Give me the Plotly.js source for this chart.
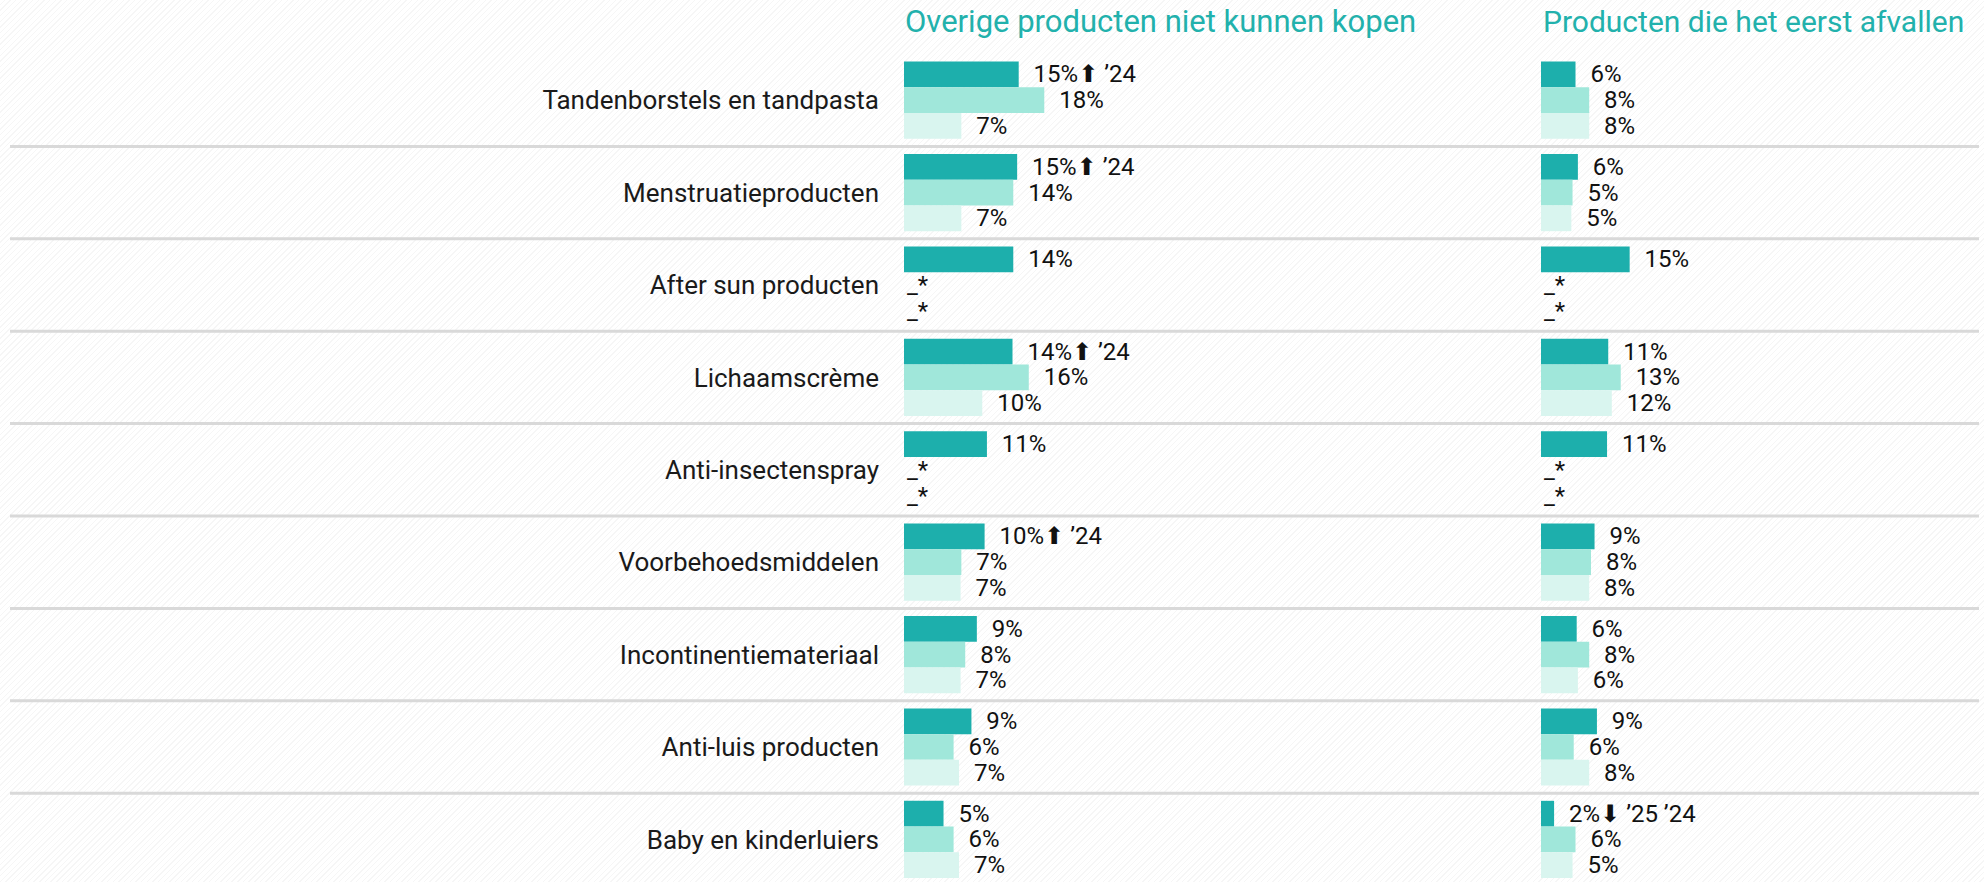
<!DOCTYPE html>
<html>
<head>
<meta charset="utf-8">
<script src="https://cdn.plot.ly/plotly-3.0.1.min.js"></script>
<style>
  html, body { margin: 0; padding: 0; }
  body {
    width: 1984px; height: 882px; overflow: hidden;
    background: repeating-linear-gradient(135deg, #ffffff 0px, #ffffff 3px, #f6f6f6 3px, #f6f6f6 4px);
  }
  #chart { width: 1984px; height: 882px; }
</style>
</head>
<body>
<div id="chart"></div>
<script>
// ---- data ----
const categories = [
  "Tandenborstels en tandpasta",
  "Menstruatieproducten",
  "After sun producten",
  "Lichaamscrème",
  "Anti-insectenspray",
  "Voorbehoedsmiddelen",
  "Incontinentiemateriaal",
  "Anti-luis producten",
  "Baby en kinderluiers"
];
const seriesNames = ["Meting 1", "Meting 2", "Meting 3"];

// Panel 1: Overige producten niet kunnen kopen (%)
const leftTitle = "Overige producten niet kunnen kopen";
const left1 = [14.8, 14.6, 14.1, 14.0, 10.7, 10.4, 9.4, 8.7, 5.1];
const left2 = [18.1, 14.1, null, 16.1, null, 7.4, 7.9, 6.4, 6.4];
const left3 = [7.4, 7.4, null, 10.1, null, 7.3, 7.3, 7.1, 7.1];
// significance notes on the first series: [arrow, years]
const leftNotes1 = [["up", "’24"], ["up", "’24"], null, ["up", "’24"], null, ["up", "’24"], null, null, null];

// Panel 2: Producten die het eerst afvallen (%)
const rightTitle = "Producten die het eerst afvallen";
const right1 = [5.8, 6.2, 14.9, 11.3, 11.1, 9.0, 6.0, 9.4, 2.2];
const right2 = [8.1, 5.3, null, 13.4, null, 8.4, 8.1, 5.5, 5.8];
const right3 = [8.1, 5.1, null, 11.9, null, 8.1, 6.2, 8.1, 5.3];
const rightNotes1 = [null, null, null, null, null, null, null, null, ["down", "’25 ’24"]];

const colors = ["#1DAFAC", "#A0E7DA", "#D9F5EF"];

// ---- build ----
const yIdx = categories.map((c, i) => i);
const NB = "\u00a0\u00a0";
const ARROWS = { up: "⬆", down: "⬇" };

function noteText(n) {
  if (!n) return "";
  return "<span style=\"font-family:'DejaVu Sans'\">" + ARROWS[n[0]] + "</span>\u00a0" + n[1];
}

function makeTrace(vals, notes, k, xa) {
  return {
    type: "bar",
    orientation: "h",
    name: seriesNames[k],
    x: vals.map(v => v == null ? 0 : v),
    y: yIdx,
    xaxis: xa,
    yaxis: "y",
    marker: { color: colors[k], line: { width: 0 } },
    text: vals.map((v, i) => v == null ? "_*" : NB + Math.round(v) + "%" + (notes ? noteText(notes[i]) : "")),
    textposition: "outside",
    cliponaxis: false,
    constraintext: "none",
    textfont: { family: "Roboto, 'DejaVu Sans', sans-serif", size: 24, color: "#111111" },
    hoverinfo: "skip",
    showlegend: false
  };
}

const data = [
  makeTrace(left1, leftNotes1, 0, "x"),
  makeTrace(left2, null, 1, "x"),
  makeTrace(left3, null, 2, "x"),
  makeTrace(right1, rightNotes1, 0, "x2"),
  makeTrace(right2, null, 1, "x2"),
  makeTrace(right3, null, 2, "x2")
];

const W = 1984, H = 882, T = 54;
const leftStart = 904, leftW = 600, leftPxPer = 7.75;
const rightStart = 1541, rightW = W - 1541, rightPxPer = 5.95;

const shapes = [];
for (let i = 0; i < categories.length - 1; i++) {
  shapes.push({
    type: "line", xref: "paper", yref: "y",
    x0: 10 / W, x1: 1979 / W, y0: i + 0.5, y1: i + 0.5,
    line: { color: "#d9d9d9", width: 3 }, layer: "below"
  });
}

const plotH = H - T;
const titleY = 1 + 33 / plotH;

const layout = {
  width: W, height: H,
  margin: { l: 0, r: 0, t: T, b: 0, pad: 0 },
  paper_bgcolor: "rgba(0,0,0,0)",
  plot_bgcolor: "rgba(0,0,0,0)",
  barmode: "group",
  bargap: 0.165,
  bargroupgap: 0,
  showlegend: false,
  font: { family: "Roboto, sans-serif", color: "#111111" },
  xaxis: {
    domain: [leftStart / W, (leftStart + leftW) / W],
    range: [0, leftW / leftPxPer],
    visible: false, fixedrange: true
  },
  xaxis2: {
    domain: [rightStart / W, 1],
    range: [0, rightW / rightPxPer],
    visible: false, fixedrange: true
  },
  yaxis: {
    anchor: "x",
    range: [-0.5 + plotH / 92.4, -0.5],
    tickvals: yIdx,
    ticktext: categories,
    ticks: "",
    showgrid: false, zeroline: false, showline: false,
    ticklabelstandoff: 24,
    tickfont: { family: "Roboto, sans-serif", size: 26, color: "#1a1a1a" },
    fixedrange: true
  },
  shapes: shapes,
  annotations: [
    { text: leftTitle, xref: "paper", yref: "paper", x: 903 / W, y: titleY,
      xanchor: "left", yanchor: "middle", showarrow: false,
      font: { family: "Roboto, sans-serif", size: 31, color: "#22B1AC" } },
    { text: rightTitle, xref: "paper", yref: "paper", x: 1541 / W, y: titleY,
      xanchor: "left", yanchor: "middle", showarrow: false,
      font: { family: "Roboto, sans-serif", size: 30, color: "#22B1AC" } }
  ]
};

Plotly.newPlot("chart", data, layout, { displayModeBar: false, staticPlot: true });
</script>
</body>
</html>
